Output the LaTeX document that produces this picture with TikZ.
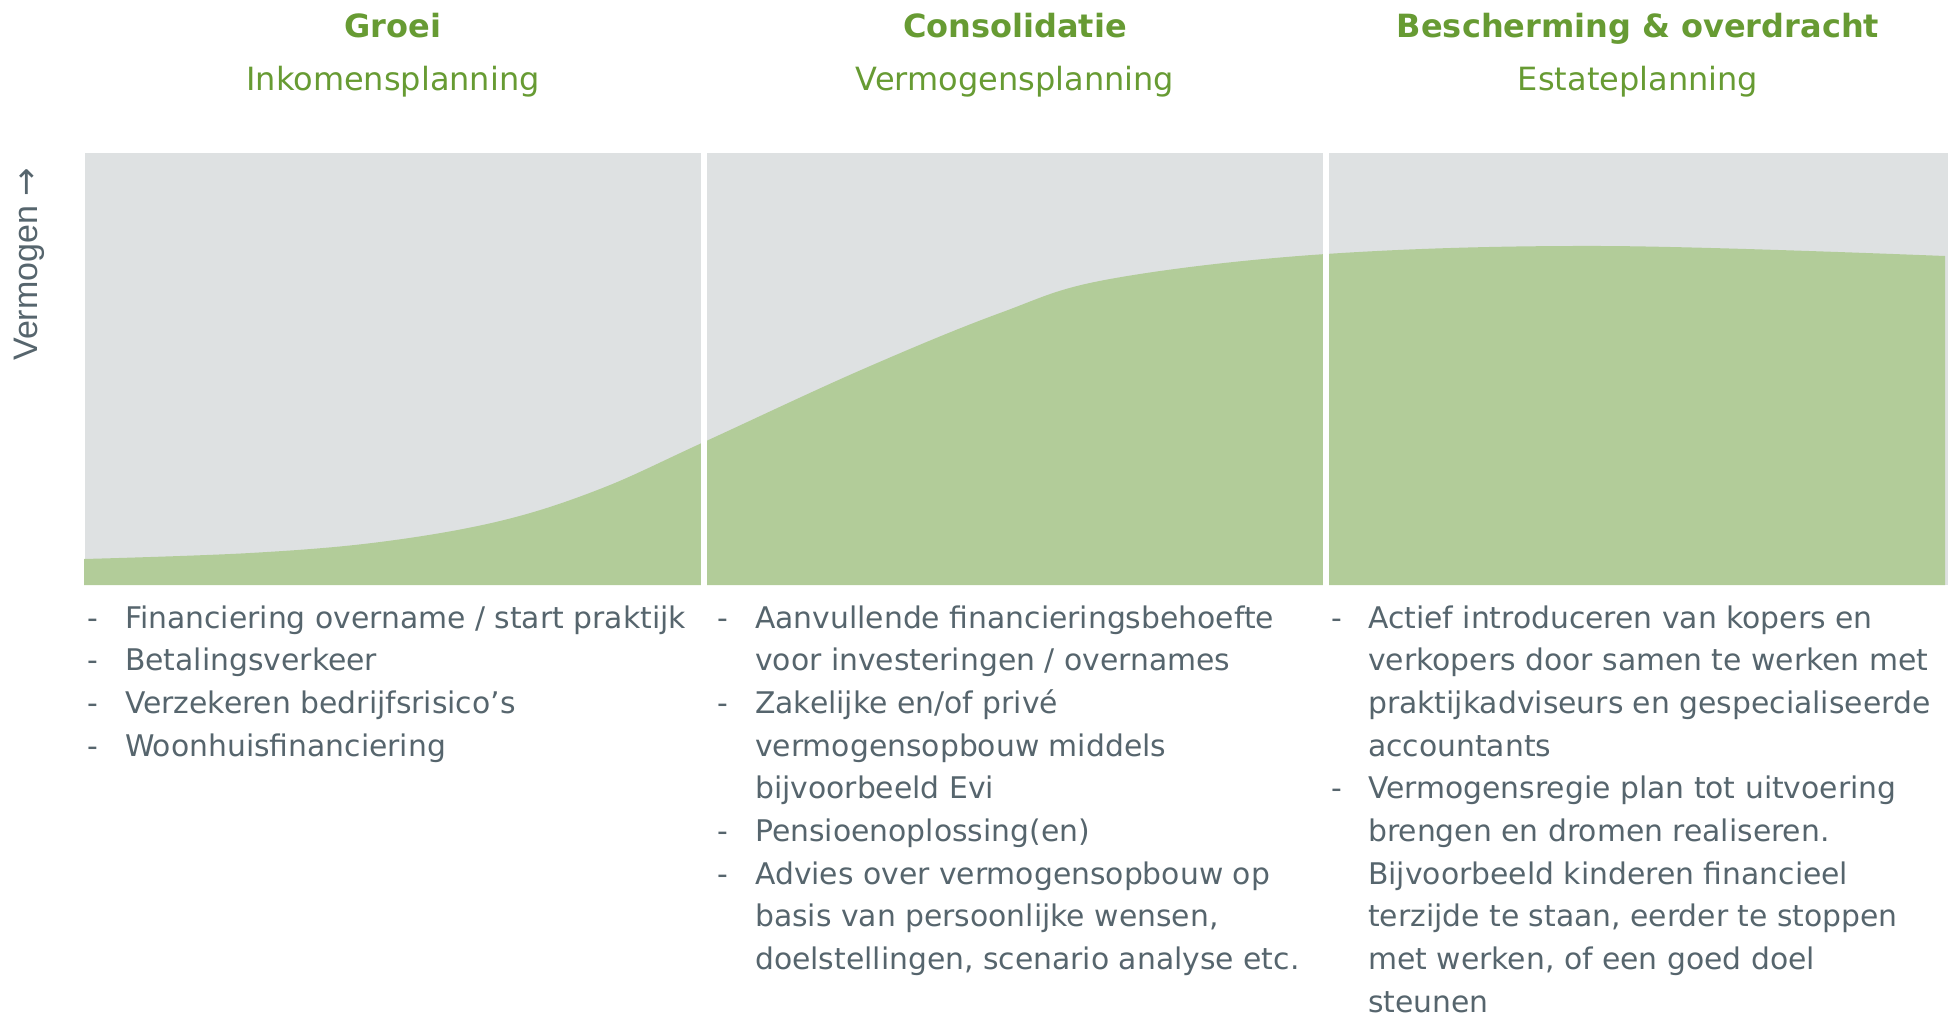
\documentclass[tikz,border=0pt]{standalone}
\usepackage{fontspec}
\setmainfont{DejaVu Sans}
\newfontfamily\axisfont{Liberation Sans}
\newfontfamily\arrowfont{DejaVu Sans}
\definecolor{leafgreen}{RGB}{103,155,51}
\definecolor{areagreen}{RGB}{178,204,153}
\definecolor{panelgrey}{RGB}{222,225,226}
\definecolor{slate}{RGB}{86,101,109}
\begin{document}
\begin{tikzpicture}[x=1pt,y=-1pt,
  phase/.style={font=\fontsize{32}{38}\selectfont\bfseries, text=leafgreen, anchor=base, inner sep=0},
  plan/.style={font=\fontsize{32}{38}\selectfont, text=leafgreen, anchor=base, inner sep=0},
  items/.style={font=\fontsize{29.8}{42.7}\selectfont, text=slate, anchor=base west, inner sep=0},
  gap/.style={fill=white},
]
\useasboundingbox (0,0) rectangle (1954,1018);

% background panel and wealth curve
\fill[panelgrey] (85,153) rectangle (1948,585);
\fill[areagreen] (84,585) -- plot[smooth, tension=0.6] coordinates {
  (84,559) (250,553) (380,542) (500,521) (600,489) (704,442)
  (861,370) (1000,313) (1110,279) (1326,254) (1603,246) (1945,256)}
  -- (1945,585) -- cycle;

% white separators between the three phases
\fill[gap] (701,150) rectangle (707,590);
\fill[gap] (1323,150) rectangle (1329,590);

% vertical axis label
\node[rotate=90, anchor=base west, font=\axisfont\fontsize{34}{40}\selectfont, text=slate, inner sep=0]
  (axis) at (37,361) {Vermogen {\arrowfont →}};

% phase headings
\node[phase] (h1) at (393,37) {Groei};
\node[plan]  (s1) at (393,90) {Inkomensplanning};
\node[phase] (h2) at (1015,37) {Consolidatie};
\node[plan]  (s2) at (1015,90) {Vermogensplanning};
\node[phase] (h3) at (1638,37) {Bescherming \& overdracht};
\node[plan]  (s3) at (1638,90) {Estateplanning};

% item lists
\node[items] (l1) at (87,628) {\begin{tabular}[t]{@{}p{38pt}@{}l@{}}
-&Financiering overname / start praktijk\\
-&Betalingsverkeer\\
-&Verzekeren bedrijfsrisico’s\\
-&Woonhuisfinanciering
\end{tabular}};

\node[items] (l2) at (717,628) {\begin{tabular}[t]{@{}p{38pt}@{}l@{}}
-&Aanvullende financieringsbehoefte\\
&voor investeringen / overnames\\
-&Zakelijke en/of privé\\
&vermogensopbouw middels\\
&bijvoorbeeld Evi\\
-&Pensioenoplossing(en)\\
-&Advies over vermogensopbouw op\\
&basis van persoonlijke wensen,\\
&doelstellingen, scenario analyse etc.
\end{tabular}};

\node[items] (l3) at (1331,628) {\begin{tabular}[t]{@{}p{37pt}@{}l@{}}
-&Actief introduceren van kopers en\\
&verkopers door samen te werken met\\
&praktijkadviseurs en gespecialiseerde\\
&accountants\\
-&Vermogensregie plan tot uitvoering\\
&brengen en dromen realiseren.\\
&Bijvoorbeeld kinderen financieel\\
&terzijde te staan, eerder te stoppen\\
&met werken, of een goed doel\\
&steunen
\end{tabular}};
\end{tikzpicture}
\end{document}
